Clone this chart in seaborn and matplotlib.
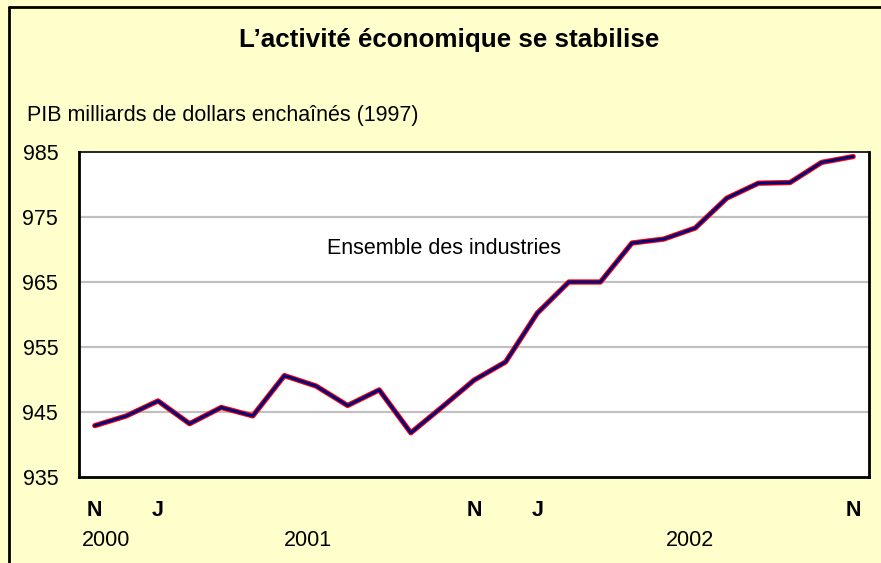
import matplotlib
matplotlib.use("Agg")
import matplotlib.pyplot as plt
import seaborn as sns
import pandas as pd
import numpy as np
from matplotlib.lines import Line2D
from matplotlib.transforms import blended_transform_factory

months = ["N", "D", "J", "F", "M", "A", "M", "J", "J", "A", "S", "O",
          "N", "D", "J", "F", "M", "A", "M", "J", "J", "A", "S", "O", "N"]
gdp = [942.9, 944.4, 946.7, 943.2, 945.7, 944.4, 950.6, 949.0, 946.0, 948.4,
       941.8, 945.8, 949.9, 952.7, 960.2, 965.0, 965.0, 971.0, 971.6, 973.3,
       977.9, 980.2, 980.3, 983.4, 984.3]
shown_month_labels = {0: "N", 2: "J", 12: "N", 14: "J", 24: "N"}
year_labels = [("2000", 0.35), ("2001", 6.75), ("2002", 18.85)]
y_ticks = [935, 945, 955, 965, 975, 985]

title = "L\u2019activité économique se stabilise"
subtitle = "PIB milliards de dollars enchaînés (1997)"
series_label = "Ensemble des industries"

sns.set_theme(style="white")
plt.rcParams["font.family"] = ["Liberation Sans", "DejaVu Sans"]

W, H = 881, 563
fig = plt.figure(figsize=(W / 100, H / 100), dpi=100)
fig.patch.set_facecolor("#FFFFCC")

ax = fig.add_axes([79 / W, 1 - 477 / H, (869 - 79) / W, (477 - 152) / H])
ax.set_facecolor("white")

df = pd.DataFrame({"x": np.arange(len(gdp)), "gdp": gdp})
sns.lineplot(data=df, x="x", y="gdp", ax=ax, color="#FF0000", linewidth=3.8)
sns.lineplot(data=df, x="x", y="gdp", ax=ax, color="#000080", linewidth=2.2)

ax.set_xlim(-0.5, len(gdp) - 0.5)
ax.set_ylim(935, 985)
ax.set_yticks(y_ticks)
ax.set_yticklabels([str(v) for v in y_ticks], fontsize=15.5, color="black")
ax.tick_params(axis="y", length=0, pad=15)
for v in y_ticks[1:-1]:
    ax.axhline(v, color="#C0C0C0", linewidth=1.6, zorder=0)

ax.set_xticks(np.arange(0.5, len(gdp) - 1, 1.0))
ax.set_xticklabels([])
ax.tick_params(axis="x", direction="in", length=7, width=1.5, color="black")
ax.set_xlabel("")
ax.set_ylabel("")

for side in ["left", "bottom", "right"]:
    ax.spines[side].set_color("black")
    ax.spines[side].set_linewidth(2.0)
ax.spines["top"].set_color("black")
ax.spines["top"].set_linewidth(1.2)

trans = blended_transform_factory(ax.transData, fig.transFigure)
for i, lab in shown_month_labels.items():
    ax.text(i, 1 - 510 / H, lab, transform=trans, ha="center", va="center",
            fontsize=15.5, fontweight="bold", color="black")
for lab, xpos in year_labels:
    ax.text(xpos, 1 - 540 / H, lab, transform=trans, ha="center", va="center",
            fontsize=15.5, color="black")

ax.text(7.35, 970.2, series_label, ha="left", va="center", fontsize=15.5, color="black")

fig.text(449 / W, 1 - 40 / H, title, ha="center", va="center",
         fontsize=18.7, fontweight="bold", color="black")
fig.text(27 / W, 1 - 116 / H, subtitle, ha="left", va="center",
         fontsize=15.5, color="black")

fig.add_artist(Line2D([9 / W, 9 / W], [0, 1 - 7 / H], transform=fig.transFigure,
                      color="black", linewidth=2.0))
fig.add_artist(Line2D([9 / W, 1], [1 - 7 / H, 1 - 7 / H], transform=fig.transFigure,
                      color="black", linewidth=2.0))

fig.savefig("out.png", dpi=100, facecolor=fig.get_facecolor())
